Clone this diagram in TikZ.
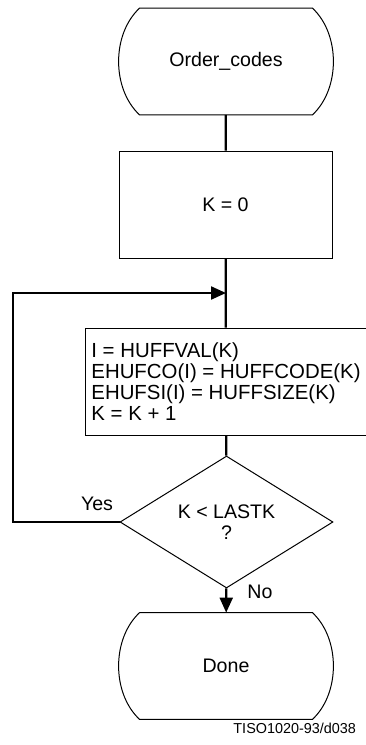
\documentclass[tikz,border=0pt]{standalone}
\usepackage{fontspec}
\setmainfont{Liberation Sans}
\usetikzlibrary{arrows.meta,shapes.geometric}

\tikzset{
  box/.style={draw,line width=0.5pt,rectangle,minimum width=106.5pt,minimum height=53.5pt,inner sep=0pt},
  terminal/.style={rectangle,minimum width=107pt,minimum height=53pt,inner sep=0pt},
  decision/.style={draw,line width=0.5pt,diamond,minimum width=106.5pt,minimum height=61pt,inner sep=0pt},
  flow/.style={line width=1.1pt},
  flowarrow/.style={flow,-{Triangle[length=7.5pt,width=6.5pt]}},
}
% rounded-side outline of a start/stop node
\newcommand{\terminaloutline}[1]{%
  \draw[line width=0.5pt] ([xshift=10.5pt]#1.north west) -- ([xshift=-10.5pt]#1.north east)
    .. controls ([xshift=3.5pt,yshift=-13pt]#1.north east) and ([xshift=3.5pt,yshift=13pt]#1.south east) .. ([xshift=-10.5pt]#1.south east)
    -- ([xshift=10.5pt]#1.south west)
    .. controls ([xshift=-3.5pt,yshift=13pt]#1.south west) and ([xshift=-3.5pt,yshift=-13pt]#1.north west) .. ([xshift=10.5pt]#1.north west)
    -- cycle;}

\begin{document}
\begin{tikzpicture}[x=0.5pt,y=-0.5pt,font=\fontsize{9.8}{10.4}\selectfont]
  \useasboundingbox (0,0) rectangle (365,745);
  % blocks
  \node[terminal] (start) at (226,61.5) {Order\_codes};
  \terminaloutline{start}
  \node[box] (init) at (225.5,204.5) {K = 0};
  \coordinate (join) at (226,293);
  \node[box,minimum width=141pt,align=left,font=\fontsize{10.2}{10.4}\selectfont] (body) at (226,381.5)
    {I = HUFFVAL(K)\\EHUFCO(I) = HUFFCODE(K)\\EHUFSI(I) = HUFFSIZE(K)\\K = K + 1};
  \node[decision,align=center] (test) at (226.5,522) {K < LASTK\\?};
  \node[terminal] (done) at (226,666) {Done};
  \terminaloutline{done}
  % connectors
  \draw[flow] (start) -- (init);
  \draw[flow] (init) -- (body);
  \draw[flow] (body) -- (test);
  \draw[flowarrow] (test) -- (done);
  \coordinate (back) at (13,293);
  \draw[flowarrow] (test.west) -| (back) -- (join);
  % labels
  \node (yes) at (97,504) {Yes};
  \node (no) at (260,592) {No};
  \node[anchor=east,font=\fontsize{7.2}{8}\selectfont] (ref) at (363,728) {TISO1020-93/d038};
\end{tikzpicture}
\end{document}
